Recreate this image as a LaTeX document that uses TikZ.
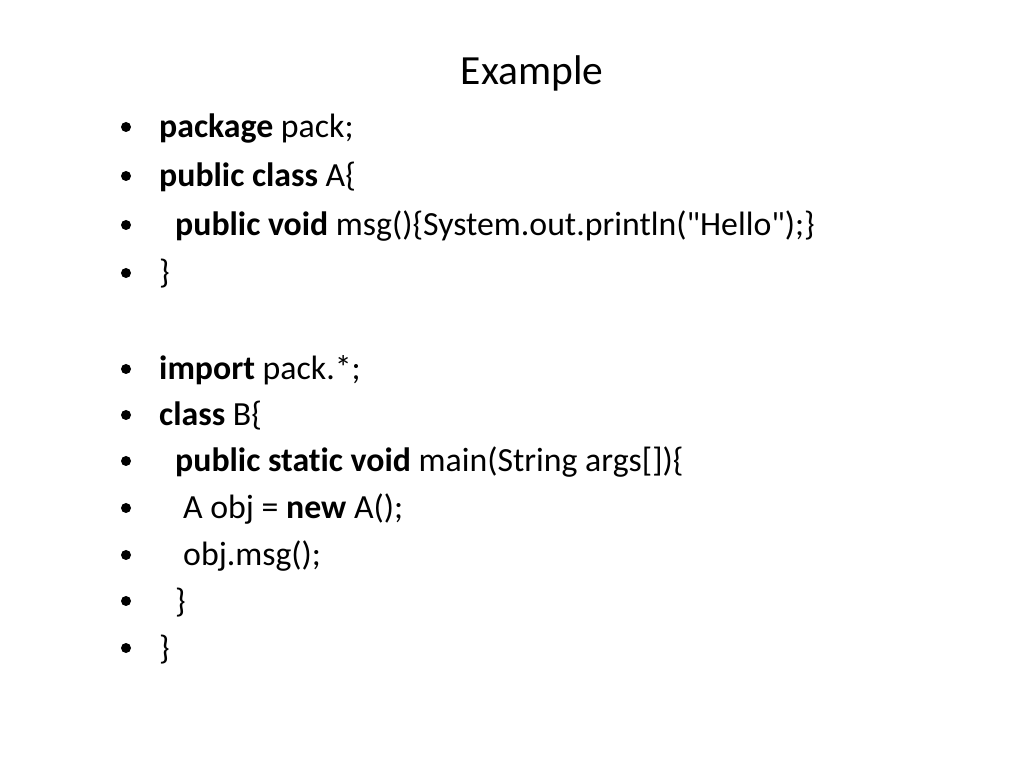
\documentclass[tikz,border=0pt]{standalone}
\usepackage{fontspec}
\defaultfontfeatures{}
\setmainfont{Carlito}[Ligatures={TeXOff,CommonOff}]
\begin{document}
\begin{tikzpicture}[x=1pt,y=1pt,
  txt/.style={anchor=base west,inner sep=0pt,font=\fontsize{33.8}{40}\selectfont},
  bul/.style={circle,fill=black,inner sep=0pt,minimum size=10pt},
  ttl/.style={anchor=base,inner sep=0pt,font=\fontsize{41.5}{48}\selectfont}]
\useasboundingbox (0,0) rectangle (1024,768);
\node[ttl] (title) at (532,{768-85}) {Example};
% lines
\node[bul] (b1) at (126,{768-138+11}) {};
\node[txt] (l1) at (159,{768-138}) {\textbf{package} pack;};
\node[bul] (b2) at (126,{768-187+11}) {};
\node[txt] (l2) at (159,{768-187}) {\textbf{public class} A\{};
\node[bul] (b3) at (126,{768-236+11}) {};
\node[txt] (l3) at (175,{768-236}) {\textbf{public void} msg()\{System.out.println("Hello");\}};
\node[bul] (b4) at (126,{768-284+11}) {};
\node[txt] (l4) at (159,{768-284}) {\}};
\node[bul] (b5) at (126,{768-380+11}) {};
\node[txt] (l5) at (159,{768-380}) {\textbf{import} pack.*;};
\node[bul] (b6) at (126,{768-426+11}) {};
\node[txt] (l6) at (159,{768-426}) {\textbf{class} B\{};
\node[bul] (b7) at (126,{768-472+11}) {};
\node[txt] (l7) at (175,{768-472}) {\textbf{public static void} main(String args[])\{};
\node[bul] (b8) at (126,{768-519+11}) {};
\node[txt] (l8) at (183,{768-519}) {A obj = \textbf{new} A();};
\node[bul] (b9) at (126,{768-566+11}) {};
\node[txt] (l9) at (183,{768-566}) {obj.msg();};
\node[bul] (b10) at (126,{768-612+11}) {};
\node[txt] (l10) at (175,{768-612}) {\}};
\node[bul] (b11) at (126,{768-659+11}) {};
\node[txt] (l11) at (159,{768-659}) {\}};
\end{tikzpicture}
\end{document}
